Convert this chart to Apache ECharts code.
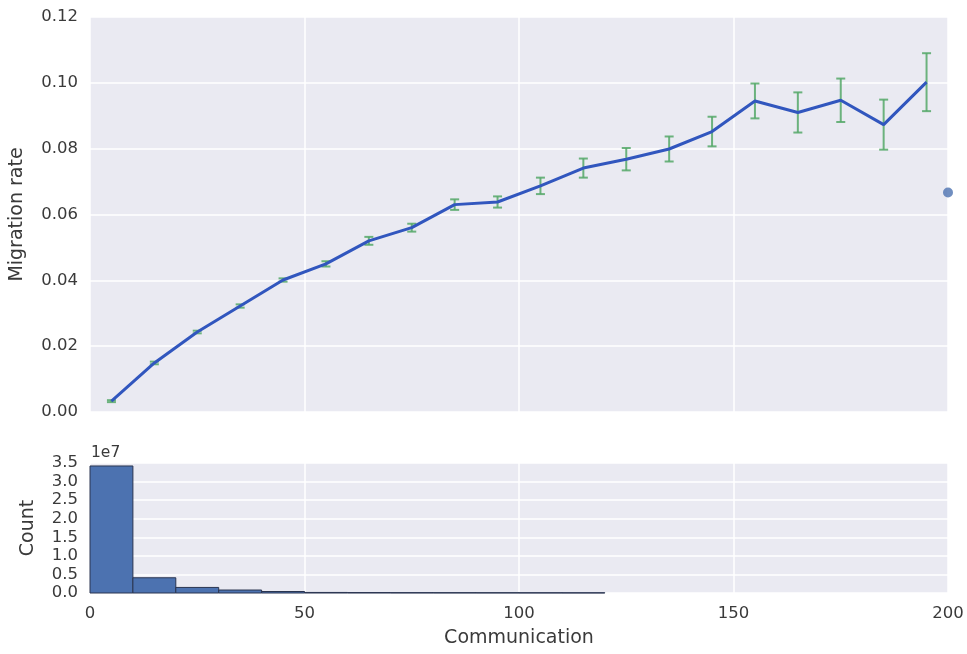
<!DOCTYPE html>
<html><head><meta charset="utf-8">
<script src="https://cdn.jsdelivr.net/npm/echarts@6/dist/echarts.min.js"></script>
<style>html,body{margin:0;padding:0;background:#fff}#c{width:967px;height:654px}</style>
</head><body><div id="c"></div>
<script>
var binCenters = [5,15,25,35,45,55,65,75,85,95,105,115,125,135,145,155,165,175,185,195];
var migrationRate = [0.0033,0.0149,0.0243,0.0322,0.0401,0.0450,0.0520,0.0560,0.0630,0.0638,0.0687,0.0741,0.0768,0.0799,0.0852,0.0945,0.0910,0.0947,0.0873,0.1002];
var rateError = [0.0003,0.0004,0.0004,0.0005,0.0005,0.0008,0.0012,0.0012,0.0016,0.0017,0.0025,0.0029,0.0034,0.0038,0.0045,0.0053,0.0061,0.0066,0.0076,0.0088];
var outlierPoint = [200, 0.0667];
var histEdges = [0,10,20,30,40,50,60,70,80,90,100,110,120];
var histCounts = [34200000,4100000,1500000,800000,400000,150000,120000,100000,90000,80000,70000,60000];
var yTicksTop = [0,0.02,0.04,0.06,0.08,0.10,0.12];
var xTicks = [0,50,100,150,200];

var txt = '#3a3a3a';
var font = 'DejaVu Sans';
var chart = echarts.init(document.getElementById('c'));
var errData = binCenters.map(function(x,i){return [x, migrationRate[i]-rateError[i], migrationRate[i]+rateError[i]];});
var histData = histCounts.map(function(c,i){return [histEdges[i], histEdges[i+1], c];});
var lineData = binCenters.map(function(x,i){return [x, migrationRate[i]];});

chart.setOption({
  backgroundColor:'#fff',
  animation:false,
  textStyle:{fontFamily:font},
  grid:[
    {left:90,right:19,top:17,height:395,backgroundColor:'#eaeaf2',show:true,borderWidth:0},
    {left:90,right:19,top:463,height:130,backgroundColor:'#eaeaf2',show:true,borderWidth:0}
  ],
  xAxis:[
    {gridIndex:0,type:'value',min:0,max:200,interval:50,axisLine:{show:false},axisTick:{show:false},axisLabel:{show:false},splitLine:{lineStyle:{color:'#fff',width:1.5}}},
    {gridIndex:1,type:'value',min:0,max:200,interval:50,axisLine:{show:false},axisTick:{show:false},
     axisLabel:{color:txt,fontSize:16.5,margin:12,fontFamily:font},splitLine:{lineStyle:{color:'#fff',width:1.5}},
     name:'Communication',nameLocation:'middle',nameGap:36,nameTextStyle:{color:txt,fontSize:19,fontFamily:font}}
  ],
  yAxis:[
    {gridIndex:0,type:'value',min:0,max:0.12,interval:0.02,axisLine:{show:false},axisTick:{show:false},
     axisLabel:{color:txt,fontSize:16.5,margin:12,fontFamily:font,formatter:function(v){return v.toFixed(2);}},
     splitLine:{lineStyle:{color:'#fff',width:1.5}},
     name:'Migration rate',nameLocation:'middle',nameGap:63,nameTextStyle:{color:txt,fontSize:19,fontFamily:font}},
    {gridIndex:1,type:'value',min:0,max:35000000,interval:5000000,axisLine:{show:false},axisTick:{show:false},
     axisLabel:{color:txt,fontSize:16.5,margin:12,fontFamily:font,formatter:function(v){return (v/1e7).toFixed(1);}},
     splitLine:{lineStyle:{color:'#fff',width:1.5}},
     name:'Count',nameLocation:'middle',nameGap:52,nameTextStyle:{color:txt,fontSize:19,fontFamily:font}}
  ],
  graphic:[{type:'text',left:91,top:445,style:{text:'1e7',fill:txt,font:'15.5px DejaVu Sans'}}],
  series:[
    {type:'custom',xAxisIndex:0,yAxisIndex:0,data:errData,z:2,
     renderItem:function(params,api){
       var x=api.value(0),lo=api.coord([x,api.value(1)]),hi=api.coord([x,api.value(2)]);
       var st={stroke:'#55a868',lineWidth:2,opacity:0.85};
       return {type:'group',children:[
         {type:'line',shape:{x1:lo[0],y1:lo[1],x2:hi[0],y2:hi[1]},style:st},
         {type:'line',shape:{x1:lo[0]-4.5,y1:lo[1],x2:lo[0]+4.5,y2:lo[1]},style:st},
         {type:'line',shape:{x1:hi[0]-4.5,y1:hi[1],x2:hi[0]+4.5,y2:hi[1]},style:st}
       ]};
     }},
    {type:'line',xAxisIndex:0,yAxisIndex:0,data:lineData,showSymbol:false,symbol:'none',z:3,
     lineStyle:{color:'#3156be',width:3}},
    {type:'scatter',xAxisIndex:0,yAxisIndex:0,data:[outlierPoint],symbolSize:10,clip:true,z:4,
     itemStyle:{color:'#4c72b0'}},
    {type:'custom',xAxisIndex:1,yAxisIndex:1,data:histData,z:2,
     renderItem:function(params,api){
       var p0=api.coord([api.value(0),api.value(2)]),p1=api.coord([api.value(1),0]);
       return {type:'rect',shape:{x:p0[0],y:p0[1],width:p1[0]-p0[0],height:p1[1]-p0[1]},
         style:{fill:'#4c72b0',stroke:'#2a3550',lineWidth:1}};
     }}
  ]
});
</script></body></html>
